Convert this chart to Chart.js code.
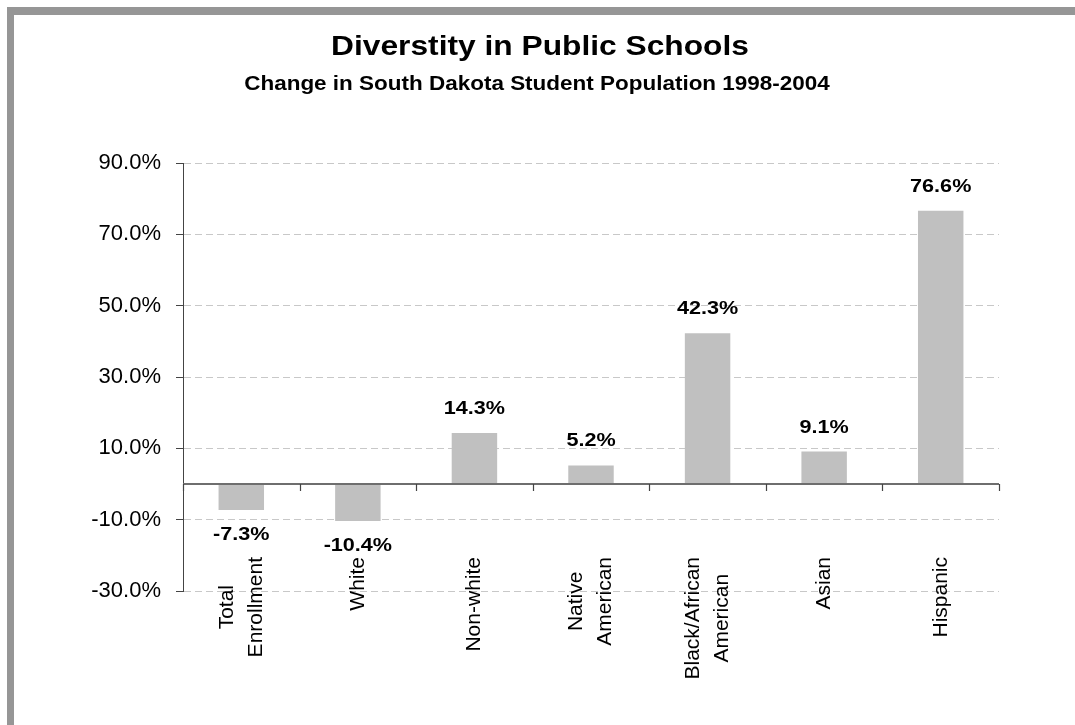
<!DOCTYPE html>
<html>
<head>
<meta charset="utf-8">
<title>Diverstity in Public Schools</title>
<script src="https://cdn.jsdelivr.net/npm/chart.js@4.4.0/dist/chart.umd.min.js"></script>
<style>
    html, body { margin: 0; padding: 0; background: #fff; }
    #wrap { position: relative; width: 1075px; height: 725px; overflow: hidden; }
    #frame {
        position: absolute; left: 7px; top: 7px; right: -20px; bottom: -20px;
        border-top: 8px solid #969696; border-left: 7px solid #969696;
    }
    #chart { position: absolute; left: 0; top: 0; }
</style>
</head>
<body>
<div id="wrap">
    <div id="frame"></div>
    <canvas id="chart" width="1075" height="725"></canvas>
</div>
<script>
const chartTitle = 'Diverstity in Public Schools';
const chartSubtitle = 'Change in South Dakota Student Population 1998-2004';
const categories = [
    ['Total', 'Enrollment'],
    ['White'],
    ['Non-white'],
    ['Native', 'American'],
    ['Black/African', 'American'],
    ['Asian'],
    ['Hispanic']
];
const changeValues = [-7.3, -10.4, 14.3, 5.2, 42.3, 9.1, 76.6];
const yTickValues = [-30, -10, 10, 30, 50, 70, 90];

const FONT = '"Liberation Sans", Arial, sans-serif';

// text drawn a bit wider than the font, like the original export
function drawWideText(ctx, text, x, y, font, sx) {
    ctx.save();
    ctx.font = font;
    ctx.translate(x, y);
    ctx.scale(sx, 1);
    ctx.fillText(text, 0, 0);
    ctx.restore();
}

class DiversityChart {
    constructor(canvasId) {
        this.canvas = document.getElementById(canvasId);
        this.init();
    }

    init() {
        this.chart = new Chart(this.canvas, {
            type: 'bar',
            data: {
                labels: categories,
                datasets: [{
                    data: changeValues,
                    backgroundColor: '#c0c0c0',
                    borderWidth: 0,
                    barPercentage: 0.39,
                    categoryPercentage: 1
                }]
            },
            options: {
                responsive: false,
                animation: false,
                devicePixelRatio: 1,
                layout: { padding: { top: 163, right: 76, bottom: 134, left: 0 } },
                plugins: {
                    legend: { display: false },
                    title: { display: false },
                    tooltip: { enabled: false }
                },
                scales: {
                    x: { display: false },
                    y: {
                        min: yTickValues[0],
                        max: yTickValues[yTickValues.length - 1],
                        ticks: {
                            stepSize: yTickValues[1] - yTickValues[0],
                            padding: 15,
                            color: '#000',
                            font: { family: FONT, size: 22 },
                            callback: v => v.toFixed(1) + '%'
                        },
                        grid: { color: '#c8c8c8', tickColor: '#444', tickLength: 7 },
                        border: { color: '#444', dash: [7, 4] },
                        afterFit: scale => { scale.width = 183; }
                    }
                }
            },
            plugins: [this.decorations()]
        });
    }

    decorations() {
        return {
            id: 'decorations',
            afterDatasetsDraw: chart => {
                this.drawZeroAxis(chart);
                this.drawValueLabels(chart);
                this.drawCategoryLabels(chart);
            },
            afterDraw: chart => this.drawTitles(chart)
        };
    }

    drawZeroAxis(chart) {
        const { ctx, chartArea, scales: { x, y } } = chart;
        const zeroY = y.getPixelForValue(0);
        const step = x.getPixelForValue(1) - x.getPixelForValue(0);
        ctx.save();
        ctx.strokeStyle = '#6e6e6e';
        ctx.lineWidth = 2;
        ctx.beginPath();
        ctx.moveTo(chartArea.left, zeroY);
        ctx.lineTo(chartArea.right, zeroY);
        ctx.stroke();
        ctx.lineWidth = 1.2;
        ctx.strokeStyle = '#444';
        ctx.beginPath();
        for (let k = 0; k <= categories.length; k++) {
            const bx = Math.round(x.getPixelForValue(k) - step / 2) + 0.5;
            ctx.moveTo(bx, zeroY);
            ctx.lineTo(bx, zeroY + 7);
        }
        ctx.stroke();
        ctx.restore();
    }

    drawValueLabels(chart) {
        const { ctx } = chart;
        const bars = chart.getDatasetMeta(0).data;
        ctx.save();
        ctx.fillStyle = '#000';
        ctx.textAlign = 'center';
        ctx.textBaseline = 'alphabetic';
        bars.forEach((bar, i) => {
            const v = changeValues[i];
            const ty = v >= 0 ? bar.y - 19 : bar.y + 30;
            drawWideText(ctx, v.toFixed(1) + '%', bar.x, ty, 'bold 18px ' + FONT, 1.2);
        });
        ctx.restore();
    }

    drawCategoryLabels(chart) {
        const { ctx, chartArea, scales: { x } } = chart;
        const lineGap = 29;
        ctx.save();
        ctx.fillStyle = '#000';
        ctx.font = '21px ' + FONT;
        ctx.textAlign = 'center';
        ctx.textBaseline = 'middle';
        categories.forEach((lines, i) => {
            const longest = Math.max(...lines.map(t => ctx.measureText(t).width));
            const cx = x.getPixelForValue(i);
            const cy = chartArea.bottom - 34 + longest / 2;
            ctx.save();
            ctx.translate(cx, cy);
            ctx.rotate(-Math.PI / 2);
            lines.forEach((t, j) => {
                ctx.fillText(t, 0, (j - (lines.length - 1) / 2) * lineGap);
            });
            ctx.restore();
        });
        ctx.restore();
    }

    drawTitles(chart) {
        const { ctx } = chart;
        ctx.save();
        ctx.fillStyle = '#000';
        ctx.textAlign = 'center';
        ctx.textBaseline = 'alphabetic';
        drawWideText(ctx, chartTitle, 540, 55, 'bold 27px ' + FONT, 1.175);
        drawWideText(ctx, chartSubtitle, 537, 90, 'bold 21px ' + FONT, 1.07);
        ctx.restore();
    }
}

const diversityChart = new DiversityChart('chart');
</script>
</body>
</html>
